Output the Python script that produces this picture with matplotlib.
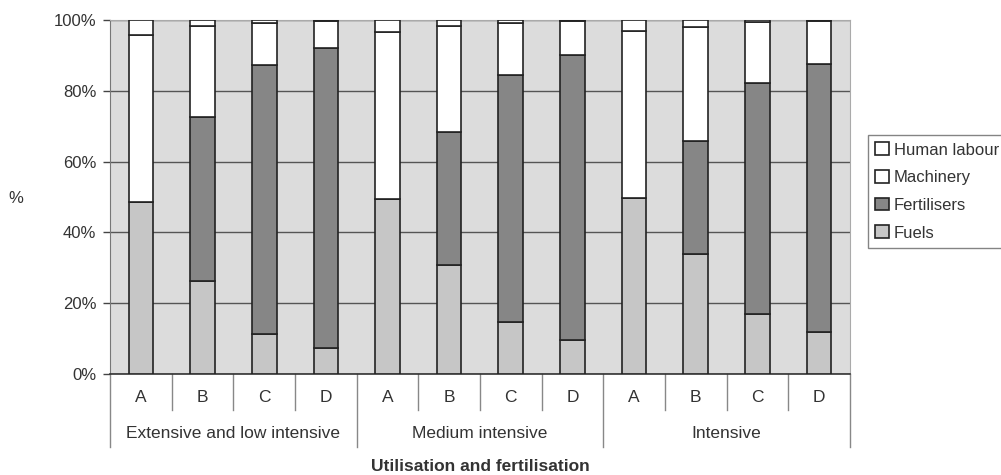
import matplotlib.pyplot as plt
import numpy as np

# data (% share of energy input)
groups = ['Extensive and low intensive', 'Medium intensive', 'Intensive']
cats = ['A', 'B', 'C', 'D']
series = ['Fuels', 'Fertilisers', 'Machinery', 'Human labour']

fuels = [48.7, 26.4, 11.3, 7.3, 49.3, 30.8, 14.8, 9.6, 49.6, 33.8, 16.9, 11.9]
fertilisers = [0.0, 46.1, 76.0, 84.7, 0.0, 37.6, 69.7, 80.5, 0.0, 32.0, 65.2, 75.6]
machinery = [47.1, 25.8, 11.9, 7.7, 47.2, 29.9, 14.7, 9.6, 47.3, 32.3, 17.3, 12.2]
human_labour = [4.2, 1.7, 0.8, 0.3, 3.5, 1.7, 0.8, 0.3, 3.1, 1.9, 0.6, 0.3]

colors = ['#c6c6c6', '#868686', 'white', 'white']

plt.rcParams['font.family'] = ['Liberation Sans', 'DejaVu Sans']

fig = plt.figure(figsize=(10.01, 4.75), dpi=100)
ax = fig.add_axes([0.110, 0.2126, 0.739, 0.7453])
ax.set_facecolor('#dcdcdc')

n = len(fuels)
x = np.arange(n)
bottom = np.zeros(n)
handles = []
for name, vals, col in zip(series, [fuels, fertilisers, machinery, human_labour], colors):
    vals = np.array(vals)
    b = ax.bar(x, vals, width=0.4, bottom=bottom, color=col, edgecolor='#222222',
               linewidth=1.2, zorder=3, label=name)
    handles.append(b)
    bottom += vals

ax.set_xlim(-0.5, n - 0.5)
ax.set_ylim(0, 100)
ax.set_yticks([0, 20, 40, 60, 80, 100])
ax.set_yticklabels(['0%', '20%', '40%', '60%', '80%', '100%'], fontsize=12, color='#333333')
ax.tick_params(axis='y', length=5, width=1, color='#444444', pad=5)
ax.set_xticks([])
ax.yaxis.grid(True, color='#555555', linewidth=1)
ax.set_axisbelow(True)

for s in ['top', 'right']:
    ax.spines[s].set_color('#aaaaaa')
    ax.spines[s].set_linewidth(0.8)
ax.spines['left'].set_color('#777777')
ax.spines['bottom'].set_color('#333333')
ax.spines['bottom'].set_linewidth(1.2)

# category axis: letters, group names and separator lines
trans = ax.get_xaxis_transform()
for i in range(n):
    ax.text(i, -0.065, cats[i % 4], transform=trans, ha='center', va='center',
            fontsize=12.5, color='#333333')
for i in range(n + 1):
    low = -0.206 if i % 4 == 0 else -0.1017
    ax.plot([i - 0.5, i - 0.5], [0, low], transform=trans, color='#888888',
            linewidth=1, clip_on=False)
for g, name in enumerate(groups):
    ax.text(g * 4 + 1.5, -0.168, name, transform=trans, ha='center', va='center',
            fontsize=12.5, color='#333333')

ax.text(0.5, -0.262, 'Utilisation and fertilisation', transform=ax.transAxes,
        ha='center', va='center', fontsize=12.5, fontweight='bold', color='#333333')
fig.text(0.016, 0.583, '%', ha='center', va='center', fontsize=12, color='#333333')

leg = fig.legend(handles[::-1], series[::-1], loc='upper left',
                 bbox_to_anchor=(0.867, 0.716), fontsize=12, frameon=True,
                 fancybox=False, handlelength=0.8, handleheight=0.8,
                 handletextpad=0.3, labelspacing=0.75, borderpad=0.45,
                 borderaxespad=0)
leg.get_frame().set_edgecolor('#666666')
leg.get_frame().set_linewidth(1)
for t in leg.get_texts():
    t.set_color('#333333')

fig.savefig('out.png', dpi=100)
